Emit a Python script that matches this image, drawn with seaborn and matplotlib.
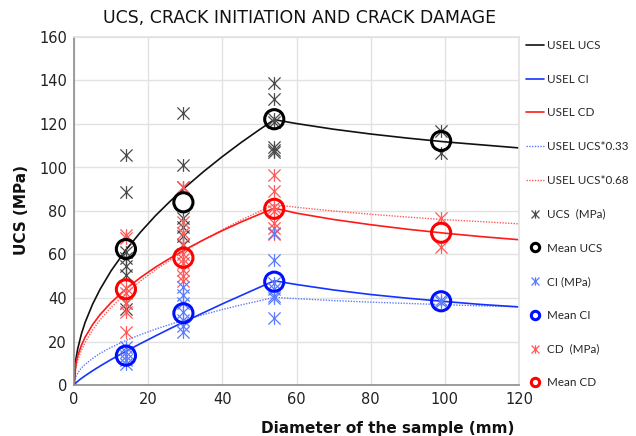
import numpy as np
import pandas as pd
import matplotlib
matplotlib.use("Agg")
import matplotlib.pyplot as plt
from matplotlib.path import Path
from matplotlib.lines import Line2D
import seaborn as sns

# ---------------- data ----------------
diameters = [14, 29.5, 54, 99]

ucs_points = {14: [105.7, 88.9, 61.0, 58.5, 54.5, 50.5, 37.5, 35.0],
              29.5: [124.9, 101.1, 91.0, 77.0, 72.5, 68.5, 64.5],
              54: [139.0, 131.5, 122.5, 121.0, 109.5, 108.0, 107.2],
              99: [116.8, 106.8]}
ci_points = {14: [17.6, 15.0, 13.5, 11.5, 9.5],
             29.5: [45.2, 41.4, 37.5, 33.5, 30.0, 27.0, 24.5],
             54: [70.0, 57.5, 47.0, 44.0, 41.0, 40.0, 30.8],
             99: [39.0, 38.0]}
cd_points = {14: [69.0, 67.5, 44.5, 42.5, 37.7, 33.7, 24.5],
             29.5: [91.0, 75.0, 70.0, 65.0, 60.0, 58.0, 56.0, 53.0, 50.0, 47.8],
             54: [96.5, 89.3, 82.0, 80.0, 74.5, 72.0, 69.5],
             99: [76.8, 63.6]}

mean_ucs = [62.5, 84.0, 122.2, 112.2]
mean_ci = [13.5, 33.0, 47.5, 38.5]
mean_cd = [44.0, 58.5, 81.0, 70.0]

# fitted USEL curves
curve_x = [0, 0.5, 1, 2, 3, 5, 7, 10, 14, 18, 22, 26, 30, 35, 40, 45, 50, 54,
           60, 70, 80, 90, 100, 110, 120]
usel_ucs = [0, 11.7, 16.6, 23.5, 28.8, 37.1, 43.9, 52.5, 62.1, 70.4, 77.9, 84.6,
            90.9, 98.2, 105.0, 111.4, 117.4, 122.0, 120.2, 117.6, 115.4, 113.5,
            111.8, 110.4, 109.0]
usel_ci = [0, 0.95, 1.7, 3.04, 4.26, 6.54, 8.67, 11.7, 15.5, 19.1, 22.6, 26.0,
           29.3, 33.3, 37.3, 41.1, 44.9, 47.9, 46.2, 43.7, 41.6, 39.9, 38.4,
           37.0, 35.9]
usel_cd = [0, 9.8, 13.4, 18.3, 22.0, 27.7, 32.3, 37.9, 44.2, 49.5, 54.2, 58.4,
           62.3, 66.8, 71.0, 74.9, 78.5, 81.3, 79.0, 76.1, 73.7, 71.6, 69.8,
           68.2, 66.8]
usel_ucs_033 = [0, 3.9, 5.5, 7.8, 9.5, 12.2, 14.5, 17.3, 20.5, 23.2, 25.7, 27.9,
                30.0, 32.4, 34.7, 36.8, 38.7, 40.3, 39.7, 38.8, 38.1, 37.5,
                36.9, 36.4, 36.0]
usel_ucs_068 = [0, 8.0, 11.3, 16.0, 19.6, 25.2, 29.9, 35.7, 42.2, 47.9, 53.0,
                57.5, 61.8, 66.8, 71.4, 75.8, 79.8, 83.0, 81.7, 80.0, 78.5,
                77.2, 76.0, 75.1, 74.1]

legend_labels = ["USEL UCS", "USEL CI", "USEL CD", "USEL UCS*0.33",
                 "USEL UCS*0.68", "UCS  (MPa)", "Mean UCS", "CI (MPa)",
                 "Mean CI", "CD  (MPa)", "Mean CD"]

# ---------------- style ----------------
sns.set_theme(style="white")
plt.rcParams["font.family"] = ["DejaVu Sans"]

C_BLACK = "#111111"
C_BLUE = "#1533ff"
C_RED = "#ff1a1a"
C_UCS_PT = "#4a4a4a"
C_CI_PT = "#5b7cff"
C_CD_PT = "#ff5a5a"

star = Path([(-1, -1), (1, 1), (-1, 1), (1, -1), (0, -1.05), (0, 1.05)],
            [Path.MOVETO, Path.LINETO, Path.MOVETO, Path.LINETO,
             Path.MOVETO, Path.LINETO])

fig = plt.figure(figsize=(6.36, 4.36), dpi=100)
ax = fig.add_axes([74 / 636, 1 - 385 / 436, (519 - 74) / 636, (385 - 37) / 436])

def points_df(d):
    xs, ys = [], []
    for k in diameters:
        for v in d[k]:
            xs.append(k)
            ys.append(v)
    return pd.DataFrame({"x": xs, "y": ys})

curves = pd.DataFrame({"x": curve_x, "ucs": usel_ucs, "ci": usel_ci, "cd": usel_cd,
                       "u33": usel_ucs_033, "u68": usel_ucs_068})

# lines
sns.lineplot(data=curves, x="x", y="u33", ax=ax, color="#5f7bff", lw=1.0,
             linestyle=(0, (1, 1)), sort=False, estimator=None)
sns.lineplot(data=curves, x="x", y="u68", ax=ax, color="#ff5c5c", lw=1.0,
             linestyle=(0, (1, 1)), sort=False, estimator=None)
sns.lineplot(data=curves, x="x", y="ucs", ax=ax, color=C_BLACK, lw=1.2,
             sort=False, estimator=None)
sns.lineplot(data=curves, x="x", y="ci", ax=ax, color=C_BLUE, lw=1.2,
             sort=False, estimator=None)
sns.lineplot(data=curves, x="x", y="cd", ax=ax, color=C_RED, lw=1.2,
             sort=False, estimator=None)

# individual points
for d, col in [(ucs_points, C_UCS_PT), (cd_points, C_CD_PT), (ci_points, C_CI_PT)]:
    sns.scatterplot(data=points_df(d), x="x", y="y", ax=ax, marker=star,
                    s=85, color=col, edgecolor=col, linewidth=0.9, zorder=3)

# means
means_df = pd.DataFrame({"x": diameters, "ucs": mean_ucs, "ci": mean_ci, "cd": mean_cd})
for key, col in [("ucs", "#000000"), ("ci", "#0010ff"), ("cd", "#ff0000")]:
    sns.scatterplot(data=means_df, x="x", y=key, ax=ax, marker="o", s=190,
                    color=col, edgecolor=col, linewidth=2.2, zorder=4)
    ax.collections[-1].set_facecolor("none")

ax.set_xlim(0, 120)
ax.set_ylim(0, 160)
ax.set_xticks(range(0, 121, 20))
ax.set_yticks(range(0, 161, 20))
ax.tick_params(axis="both", labelsize=10.5, colors="#222222", length=0, pad=5)
ax.grid(True, color="#e2e2e2", lw=1.0)
ax.set_axisbelow(True)
for s in ["top", "right"]:
    ax.spines[s].set_color("#e2e2e2")
for s in ["left", "bottom"]:
    ax.spines[s].set_color("#8c8c8c")
    ax.spines[s].set_linewidth(1.2)
ax.set_xlabel("")
ax.set_ylabel("")

fig.text(388 / 636, 1 - 428 / 436, "Diameter of the sample (mm)", ha="center",
         va="center", fontsize=11, fontweight="bold", color="#111111")
fig.text(22 / 636, 1 - 210 / 436, "UCS (MPa)", ha="center", va="center",
         rotation=90, fontsize=11, fontweight="bold", color="#111111")
fig.text(300 / 636, 1 - 18 / 436, "UCS, CRACK INITIATION AND CRACK DAMAGE",
         ha="center", va="center", fontsize=12.5, color="#111111")

# legend
handles = [
    Line2D([], [], color=C_BLACK, lw=1.2),
    Line2D([], [], color=C_BLUE, lw=1.2),
    Line2D([], [], color=C_RED, lw=1.2),
    Line2D([], [], color="#5f7bff", lw=1.0, linestyle=(0, (1, 1))),
    Line2D([], [], color="#ff5c5c", lw=1.0, linestyle=(0, (1, 1))),
    Line2D([], [], color=C_UCS_PT, marker=star, lw=0, markersize=6, mew=0.9),
    Line2D([], [], color="#000000", marker="o", lw=0, markersize=6, mew=2.2, mfc="none"),
    Line2D([], [], color=C_CI_PT, marker=star, lw=0, markersize=6, mew=0.9),
    Line2D([], [], color="#0010ff", marker="o", lw=0, markersize=6, mew=2.2, mfc="none"),
    Line2D([], [], color=C_CD_PT, marker=star, lw=0, markersize=6, mew=0.9),
    Line2D([], [], color="#ff0000", marker="o", lw=0, markersize=6, mew=2.2, mfc="none"),
]
fig.legend(handles, legend_labels, loc="upper left",
           bbox_to_anchor=(526 / 636, 1 - 40 / 436), frameon=False,
           prop={"family": ["Lato", "DejaVu Sans"], "size": 8.4},
           labelspacing=1.95, handlelength=1.5, handletextpad=0.3,
           borderaxespad=0, borderpad=0)

fig.savefig("out.png", dpi=100)
